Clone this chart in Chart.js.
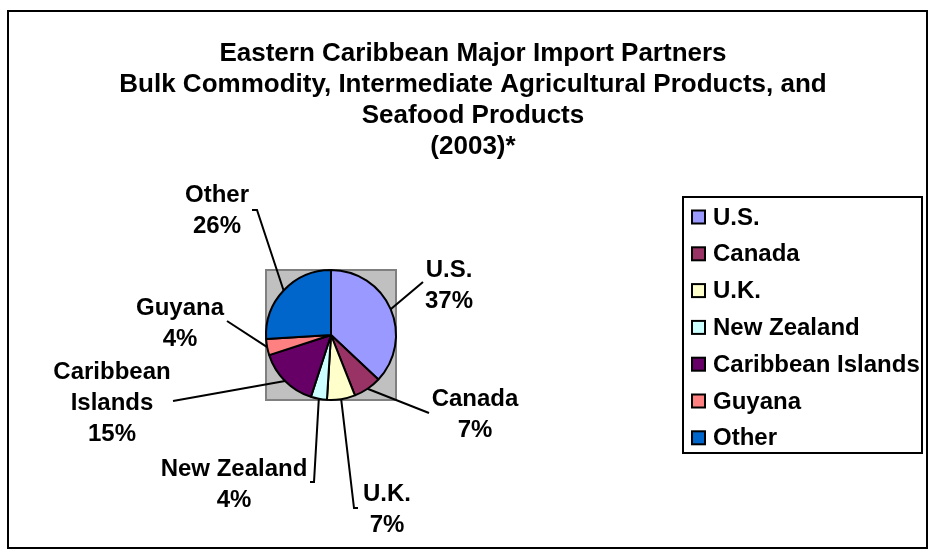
<!DOCTYPE html>
<html><head><meta charset="utf-8">
<script src="https://cdn.jsdelivr.net/npm/chart.js@4"></script>
<style>html,body{margin:0;padding:0;background:#fff;} canvas{display:block;}</style>
</head><body>
<canvas id="c" width="934" height="554"></canvas>
<script>
// ---- data ----
const titleLines = [
  "Eastern Caribbean Major Import Partners",
  "Bulk Commodity, Intermediate Agricultural Products, and",
  "Seafood Products",
  "(2003)*"
];
const partners = ["U.S.", "Canada", "U.K.", "New Zealand", "Caribbean Islands", "Guyana", "Other"];
const shares = [37, 7, 7, 4, 15, 4, 26];
const sliceColors = ["#9999FF", "#993366", "#FFFFCC", "#CCFFFF", "#660066", "#FF8080", "#0066CC"];

Chart.defaults.font.family = "'Liberation Sans', Arial, sans-serif";

const W = 934, H = 554;
const CX = 331, CY = 335, R = 65;

const layout = {
  frame: {x: 8, y: 11, w: 919, h: 537},
  title: {x: 473, y: 54, gap: 31, size: 26},
  labelFont: 24,
  labelGap: 31,
  labels: [
    {x: 449, y: 270, lx: 423, ly: 282, hook: 0},
    {x: 475, y: 399, lx: 429, ly: 413, hook: 0},
    {x: 387, y: 494, lx: 354, ly: 508, hook: 4},
    {x: 234, y: 469, lx: 314, ly: 482, hook: -4},
    {x: 112, y: 372, lx: 173, ly: 401, hook: 0, wrap: true},
    {x: 180, y: 308, lx: 227, ly: 321, hook: 0},
    {x: 217, y: 195, lx: 257, ly: 210, hook: -5}
  ],
  legend: {x: 683, y: 197, w: 239, h: 256, first: 217, step: 36.8, sw: 13, swX: 692, textX: 713, size: 24}
};

const decor = {
  id: 'decor',
  beforeDraw(chart) {
    const ctx = chart.ctx;
    ctx.save();
    ctx.fillStyle = '#fff';
    ctx.fillRect(0, 0, W, H);
    const f = layout.frame;
    ctx.strokeStyle = '#000';
    ctx.lineWidth = 2;
    ctx.strokeRect(f.x, f.y, f.w, f.h);
    ctx.fillStyle = '#000';
    ctx.font = `bold ${layout.title.size}px 'Liberation Sans', Arial, sans-serif`;
    ctx.textAlign = 'center';
    ctx.textBaseline = 'middle';
    titleLines.forEach((t, i) => ctx.fillText(t, layout.title.x, layout.title.y + i * layout.title.gap));
    ctx.restore();
  },
  beforeDatasetsDraw(chart) {
    const arc = chart.getDatasetMeta(0).data[0];
    if (!arc) return;
    const {x, y, outerRadius} = arc.getProps(['x', 'y', 'outerRadius'], true);
    const ctx = chart.ctx;
    ctx.save();
    ctx.fillStyle = '#C0C0C0';
    ctx.fillRect(x - outerRadius, y - outerRadius, outerRadius * 2, outerRadius * 2);
    ctx.strokeStyle = '#808080';
    ctx.lineWidth = 2;
    ctx.strokeRect(x - outerRadius, y - outerRadius, outerRadius * 2, outerRadius * 2);
    ctx.restore();
  },
  afterDatasetsDraw(chart) {
    const ctx = chart.ctx;
    const meta = chart.getDatasetMeta(0);
    const total = shares.reduce((a, b) => a + b, 0);
    ctx.save();
    ctx.strokeStyle = '#000';
    ctx.lineWidth = 2;
    ctx.fillStyle = '#000';
    ctx.font = `bold ${layout.labelFont}px 'Liberation Sans', Arial, sans-serif`;
    ctx.textAlign = 'center';
    ctx.textBaseline = 'middle';
    meta.data.forEach((el, i) => {
      const p = el.getProps(['x', 'y', 'startAngle', 'endAngle', 'outerRadius'], true);
      const mid = (p.startAngle + p.endAngle) / 2;
      const sx = p.x + Math.cos(mid) * p.outerRadius;
      const sy = p.y + Math.sin(mid) * p.outerRadius;
      const L = layout.labels[i];
      ctx.beginPath();
      ctx.moveTo(sx, sy);
      ctx.lineTo(L.lx, L.ly);
      if (L.hook) ctx.lineTo(L.lx + L.hook, L.ly);
      ctx.stroke();
      const pct = Math.round(chart.data.datasets[0].data[i] / total * 100) + '%';
      const lines = L.wrap ? chart.data.labels[i].split(' ') : [chart.data.labels[i]];
      lines.push(pct);
      lines.forEach((t, k) => ctx.fillText(t, L.x, L.y + k * layout.labelGap));
    });
    // legend
    const g = layout.legend;
    ctx.lineWidth = 2;
    ctx.strokeRect(g.x, g.y, g.w, g.h);
    ctx.textAlign = 'left';
    ctx.font = `bold ${g.size}px 'Liberation Sans', Arial, sans-serif`;
    chart.data.labels.forEach((lab, i) => {
      const yy = g.first + i * g.step;
      ctx.fillStyle = chart.data.datasets[0].backgroundColor[i];
      ctx.fillRect(g.swX, yy - g.sw / 2, g.sw, g.sw);
      ctx.strokeStyle = '#000';
      ctx.lineWidth = 2;
      ctx.strokeRect(g.swX, yy - g.sw / 2, g.sw, g.sw);
      ctx.fillStyle = '#000';
      ctx.fillText(lab, g.textX, yy + 1);
    });
    ctx.restore();
  }
};

new Chart(document.getElementById('c'), {
  type: 'pie',
  data: {
    labels: partners,
    datasets: [{
      data: shares,
      backgroundColor: sliceColors,
      borderColor: '#000',
      borderWidth: 2
    }]
  },
  options: {
    responsive: false,
    animation: false,
    events: [],
    radius: R,
    layout: {padding: {left: CX - R, right: W - CX - R, top: CY - R, bottom: H - CY - R}},
    plugins: {legend: {display: false}, title: {display: false}, tooltip: {enabled: false}}
  },
  plugins: [decor]
});
</script>
</body></html>
